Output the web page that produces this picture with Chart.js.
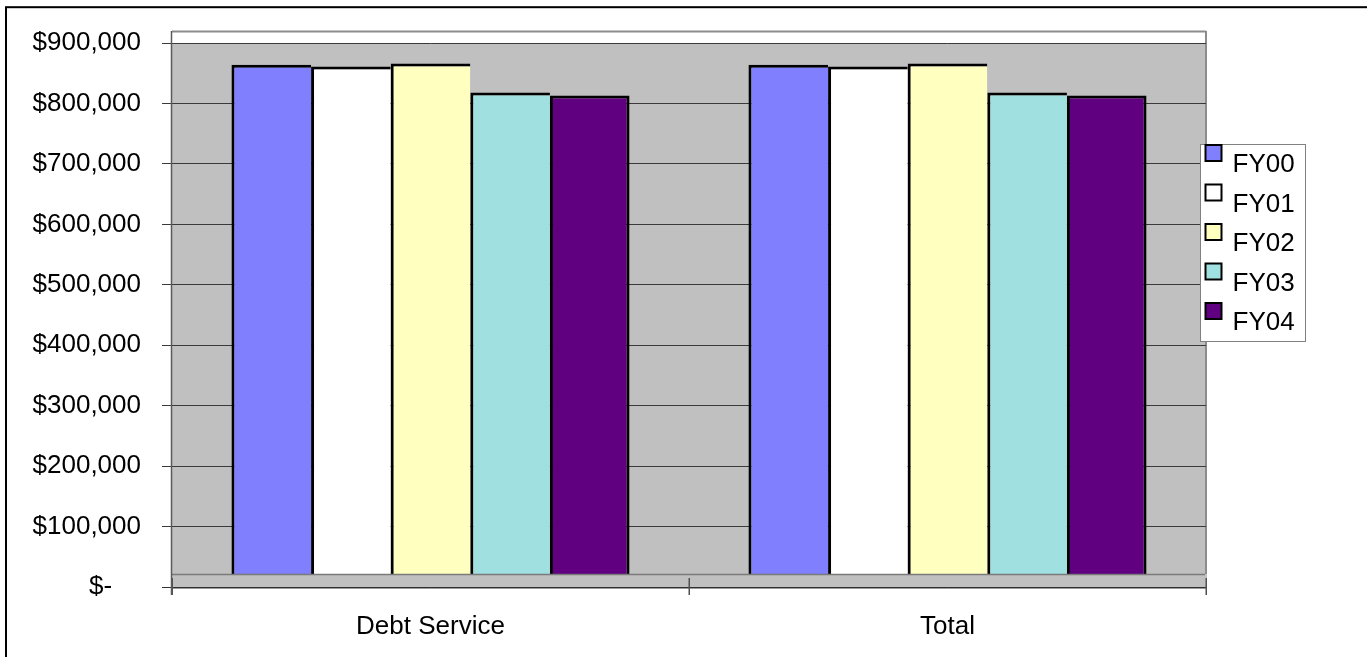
<!DOCTYPE html>
<html>
<head>
<meta charset="utf-8">
<title>Debt Service by Fiscal Year</title>
<script src="https://cdn.jsdelivr.net/npm/chart.js@4.4.1/dist/chart.umd.min.js"></script>
<style>
  html, body { margin: 0; padding: 0; background: #ffffff; }
  #wrap { width: 1367px; height: 657px; position: relative; }
</style>
</head>
<body>
<div id="wrap"><canvas id="chart" width="1367" height="657"></canvas></div>
<script>
// Categories and yearly amounts
const categories = ['Debt Service', 'Total'];
const seriesNames = ['FY00', 'FY01', 'FY02', 'FY03', 'FY04'];
const fy00 = [864000, 864000];
const fy01 = [861000, 861000];
const fy02 = [866000, 866000];
const fy03 = [818000, 818000];
const fy04 = [813000, 813000];
const yTicks = [0, 100000, 200000, 300000, 400000, 500000, 600000, 700000, 800000, 900000];

const seriesValues = [fy00, fy01, fy02, fy03, fy04];
const seriesColors = ['#8080ff', '#ffffff', '#ffffc0', '#a0e0e0', '#600080'];

const FONT = '"Liberation Sans", Arial, sans-serif';

function money(v) {
  if (v === 0) return '$-    ';
  return '$' + v.toLocaleString('en-US');
}

// Back wall, floor slab, axis lines, legend and outer frame
const excelLook = {
  id: 'excelLook',
  beforeDraw(chart) {
    const { ctx, chartArea: a } = chart;
    ctx.save();
    ctx.fillStyle = '#ffffff';
    ctx.fillRect(0, 0, chart.width, chart.height);
    const wallTop = a.top - 12;
    // strip above the top gridline
    ctx.fillStyle = '#ffffff';
    ctx.fillRect(a.left, wallTop, a.right - a.left, a.top - wallTop);
    // grey wall
    ctx.fillStyle = '#c0c0c0';
    ctx.fillRect(a.left, a.top, a.right - a.left, a.bottom - a.top);
    // wall outline
    ctx.strokeStyle = '#8c8c8c';
    ctx.lineWidth = 2;
    ctx.beginPath();
    ctx.moveTo(a.left, wallTop + 0.5);
    ctx.lineTo(a.right, wallTop + 0.5);
    ctx.moveTo(a.right, wallTop);
    ctx.lineTo(a.right, a.bottom - 12);
    ctx.stroke();
    ctx.restore();
  },
  afterDatasetsDraw(chart) {
    const { ctx, chartArea: a } = chart;
    const floorTop = a.bottom - 13;
    ctx.save();
    // floor slab
    ctx.fillStyle = '#c0c0c0';
    ctx.fillRect(a.left, floorTop, a.right - a.left + 1, a.bottom - floorTop + 1.5);
    ctx.strokeStyle = '#7a7a7a';
    ctx.lineWidth = 1.5;
    ctx.beginPath();
    ctx.moveTo(a.left, floorTop + 0.5);
    ctx.lineTo(a.right - 1, floorTop + 0.5);
    ctx.stroke();
    ctx.strokeStyle = '#9a9a9a';
    ctx.lineWidth = 1;
    ctx.beginPath();
    ctx.moveTo(a.left, a.bottom + 1.5);
    ctx.lineTo(a.right, a.bottom + 1.5);
    ctx.stroke();
    // category axis line
    ctx.strokeStyle = '#303030';
    ctx.lineWidth = 1;
    ctx.beginPath();
    ctx.moveTo(a.left - 10, a.bottom + 0.5);
    ctx.lineTo(a.right, a.bottom + 0.5);
    ctx.stroke();
    // category tick marks (crossing the slab)
    const n = chart.data.labels.length;
    const step = (a.right - a.left) / n;
    ctx.strokeStyle = '#505050';
    ctx.lineWidth = 1.5;
    ctx.beginPath();
    for (let i = 0; i <= n; i++) {
      const px = Math.round(a.left + step * i) + 0.25;
      ctx.moveTo(px, a.bottom - 9);
      ctx.lineTo(px, a.bottom + 8);
    }
    ctx.stroke();
    // value axis line
    ctx.strokeStyle = '#5a5a5a';
    ctx.lineWidth = 1.5;
    ctx.beginPath();
    ctx.moveTo(a.left - 0.5, a.top - 12);
    ctx.lineTo(a.left - 0.5, a.bottom + 8);
    ctx.stroke();

    // legend
    const lx = a.right - 5.5, ly = 144.5, lw = 105, lh = 197;
    ctx.fillStyle = '#ffffff';
    ctx.fillRect(lx, ly, lw, lh);
    ctx.strokeStyle = '#808080';
    ctx.lineWidth = 1;
    ctx.strokeRect(lx, ly, lw, lh);
    ctx.font = '26px ' + FONT;
    ctx.textAlign = 'left';
    ctx.textBaseline = 'alphabetic';
    chart.data.datasets.forEach((ds, i) => {
      const sy = 145 + i * 39.5;
      ctx.fillStyle = ds.backgroundColor;
      ctx.fillRect(lx + 5, sy, 16, 16);
      ctx.strokeStyle = '#000000';
      ctx.lineWidth = 2;
      ctx.strokeRect(lx + 5, sy, 16, 16);
      ctx.fillStyle = '#000000';
      ctx.fillText(ds.label, lx + 32, sy + 27);
    });
    ctx.restore();
  },
  afterDraw(chart) {
    const { ctx } = chart;
    ctx.save();
    ctx.strokeStyle = '#000000';
    ctx.lineWidth = 2;
    ctx.strokeRect(6, 7.2, chart.width + 20, chart.height + 20);
    ctx.restore();
  }
};

const datasets = seriesNames.map((name, i) => ({
  label: name,
  data: seriesValues[i],
  backgroundColor: seriesColors[i],
  borderColor: '#000000',
  borderWidth: i === seriesNames.length - 1
    ? { left: 3, top: 3, right: 3, bottom: 0 }
    : { left: 3, top: 3, right: 0, bottom: 0 },
  borderSkipped: false,
  barPercentage: 1.0,
  categoryPercentage: 0.77
}));

new Chart(document.getElementById('chart'), {
  type: 'bar',
  data: { labels: categories, datasets },
  options: {
    responsive: false,
    devicePixelRatio: 1,
    animation: false,
    layout: { padding: { left: 0, top: 43, right: 161, bottom: 0 } },
    plugins: {
      legend: { display: false },
      tooltip: { enabled: false }
    },
    scales: {
      x: {
        offset: true,
        grid: { display: false, drawOnChartArea: false },
        border: { display: false },
        ticks: {
          color: '#000000',
          font: { family: FONT, size: 26 },
          padding: 16,
          maxRotation: 0
        },
        afterFit(scale) { scale.height = 70; }
      },
      y: {
        min: 0,
        max: 900000,
        afterBuildTicks(scale) { scale.ticks = yTicks.map(v => ({ value: v })); },
        grid: {
          color: '#3a3a3a',
          lineWidth: 1,
          drawTicks: true,
          tickLength: 10,
          tickColor: '#3a3a3a'
        },
        border: { display: false },
        ticks: {
          color: '#000000',
          font: { family: FONT, size: 26 },
          padding: 21,
          callback: (v) => money(v)
        },
        afterFit(scale) { scale.width = 172; }
      }
    }
  },
  plugins: [excelLook]
});
</script>
</body>
</html>
